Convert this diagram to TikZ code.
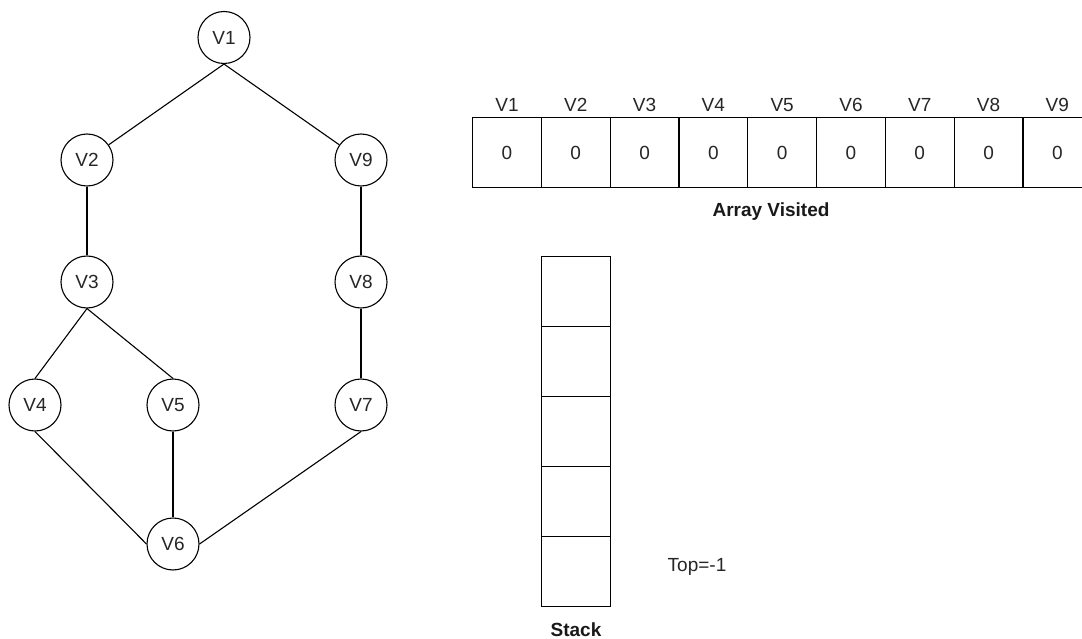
\documentclass[tikz,border=0pt]{standalone}
\usepackage{fontspec}
\setmainfont{Liberation Sans}
\usepackage{xcolor}
\usetikzlibrary{positioning}

\tikzset{
    vertex/.style={draw, circle, line width=1.1pt, minimum size=52pt, inner sep=0pt, text=black!85, font=\fontsize{19}{22}\selectfont},
    edge/.style={line width=1.1pt},
    cell/.style={draw, line width=1.1pt, minimum width=68.8pt, minimum height=70pt, inner sep=0pt, anchor=north west, text=black!85, font=\fontsize{19}{22}\selectfont},
    lbl/.style={inner sep=0pt, text=black!85, font=\fontsize{19}{22}\selectfont},
    caption/.style={inner sep=0pt, text=black!90, font=\fontsize{19}{22}\selectfont\bfseries},
}

\begin{document}
\begin{tikzpicture}[x=1pt, y=-1pt]
    \useasboundingbox (0,0) rectangle (1082,639);
    % graph
    \node[vertex] (V1) at (224,37.5) {V1};
    \node[vertex] (V2) at (87,160) {V2};
    \node[vertex] (V9) at (361,160) {V9};
    \node[vertex] (V3) at (87,282) {V3};
    \node[vertex] (V8) at (361,282) {V8};
    \node[vertex] (V4) at (35,405) {V4};
    \node[vertex] (V5) at (173,405) {V5};
    \node[vertex] (V7) at (361,405) {V7};
    \node[vertex] (V6) at (173,544) {V6};
    \draw[edge] (V1.south) -- (V2);
    \draw[edge] (V1.south) -- (V9);
    \draw[edge] (V2) -- (V3);
    \draw[edge] (V9) -- (V8);
    \draw[edge] (V3.south) -- (V4.north);
    \draw[edge] (V3.south) -- (V5.north);
    \draw[edge] (V8) -- (V7);
    \draw[edge] (V4.south) -- (V6.west);
    \draw[edge] (V5) -- (V6);
    \draw[edge] (V7.south) -- (V6.east);
    % visited array
    \foreach \i in {1,...,9} {
        \node[cell] (A\i) at ({472+(\i-1)*68.8},117) {0};
        \node[lbl, above=5pt of A\i] (L\i) {V\i};
    }
    \node[caption] (arr) at (771,212) {Array Visited};
    % stack
    \foreach \i in {1,...,5}
        \node[cell] (S\i) at (541,{256+(\i-1)*70}) {};
    \node[caption] (stk) at (576,630) {Stack};
    \node[lbl] (top) at (697,567) {Top=-1};
\end{tikzpicture}
\end{document}
